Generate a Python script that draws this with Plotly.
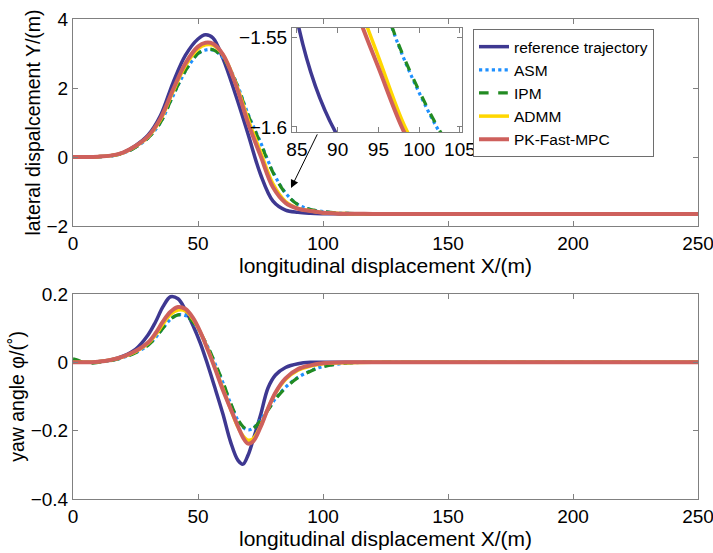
import plotly.graph_objects as go

# ---------------- data ----------------
series_names = ["reference trajectory", "ASM", "IPM", "ADMM", "PK-Fast-MPC"]

x_top = [0, 5, 10, 15, 20, 25, 30, 35, 40, 45, 50, 53, 56, 60, 65, 70, 75, 80,
         85, 90, 95, 100, 105, 110, 120, 130, 150, 200, 250]
Y_ref = [0, 0, 0.01, 0.04, 0.13, 0.33, 0.63, 1.2, 2.15, 2.95, 3.42, 3.54, 3.45, 2.85,
         1.81, 0.67, -0.5, -1.28, -1.54, -1.605, -1.632, -1.643, -1.648, -1.65,
         -1.65, -1.65, -1.65, -1.65, -1.65]
Y_asm = [0, 0, 0.01, 0.03, 0.11, 0.28, 0.55, 1.0, 1.77, 2.49, 2.99, 3.1, 3.1, 2.88,
         2.22, 1.25, 0.43, -0.43, -1.04, -1.38, -1.52, -1.581, -1.619, -1.636,
         -1.646, -1.649, -1.65, -1.65, -1.65]
Y_ipm = [0, 0, 0.01, 0.03, 0.11, 0.28, 0.55, 1.0, 1.78, 2.5, 3.0, 3.11, 3.11, 2.88,
         2.2, 1.22, 0.4, -0.45, -1.05, -1.38, -1.52, -1.58, -1.618, -1.635,
         -1.646, -1.649, -1.65, -1.65, -1.65]
Y_admm = [0, 0, 0.01, 0.04, 0.12, 0.31, 0.58, 1.08, 1.9, 2.65, 3.13, 3.25, 3.24, 2.96,
          2.16, 1.1, 0.15, -0.78, -1.29, -1.49, -1.561, -1.614, -1.634, -1.642,
          -1.648, -1.65, -1.65, -1.65, -1.65]
Y_pk = [0, 0, 0.01, 0.04, 0.13, 0.32, 0.6, 1.12, 1.95, 2.72, 3.2, 3.31, 3.28, 2.97,
        2.12, 0.99, 0.04, -0.88, -1.33, -1.5, -1.567, -1.617, -1.635, -1.643,
        -1.649, -1.65, -1.65, -1.65, -1.65]

x_bot = [0, 2, 5, 10, 15, 20, 25, 30, 33, 36, 39, 42, 45, 48, 51, 54, 57, 60, 63, 66,
         68, 70, 72, 75, 78, 81, 85, 90, 95, 100, 110, 120, 150, 200, 250]
yaw_ref = [0, 0, 0, 0.002, 0.007, 0.018, 0.038, 0.08, 0.118, 0.163, 0.192, 0.186,
           0.153, 0.108, 0.055, -0.01, -0.08, -0.152, -0.232, -0.287, -0.298, -0.272,
           -0.228, -0.155, -0.075, -0.037, -0.015, -0.004, 0, 0, 0, 0, 0, 0, 0]
yaw_asm = [0, 0, 0, 0.001, 0.005, 0.014, 0.028, 0.05, 0.072, 0.1, 0.126, 0.139,
           0.137, 0.118, 0.085, 0.044, -0.007, -0.06, -0.12, -0.17, -0.19, -0.198,
           -0.193, -0.168, -0.138, -0.106, -0.073, -0.044, -0.025, -0.012, -0.002,
           0, 0, 0, 0]
yaw_ipm = [0.01, 0.006, -0.003, 0, 0.005, 0.014, 0.028, 0.05, 0.072, 0.1, 0.126, 0.139,
           0.137, 0.118, 0.085, 0.045, -0.005, -0.058, -0.118, -0.168, -0.188, -0.197,
           -0.194, -0.17, -0.14, -0.108, -0.075, -0.045, -0.026, -0.013, -0.002,
           0, 0, 0, 0]
yaw_admm = [0, 0, 0, 0.002, 0.007, 0.016, 0.031, 0.055, 0.08, 0.112, 0.14, 0.153,
            0.15, 0.126, 0.087, 0.037, -0.02, -0.078, -0.136, -0.19, -0.215, -0.228,
            -0.224, -0.187, -0.135, -0.09, -0.05, -0.023, -0.011, -0.004, -0.001,
            0, 0, 0, 0]
yaw_pk = [0, 0, 0, 0.002, 0.007, 0.017, 0.033, 0.058, 0.085, 0.12, 0.148, 0.162,
          0.156, 0.13, 0.088, 0.035, -0.022, -0.082, -0.135, -0.188, -0.22, -0.238,
          -0.232, -0.19, -0.135, -0.088, -0.047, -0.02, -0.009, -0.003, 0, 0, 0, 0, 0]

top_vals = [Y_ref, Y_asm, Y_ipm, Y_admm, Y_pk]
bot_vals = [yaw_ref, yaw_asm, yaw_ipm, yaw_admm, yaw_pk]

x_ticks = [0, 50, 100, 150, 200, 250]
inset_x_ticks = [85, 90, 95, 100, 105]

# ---------------- styles ----------------
styles = [
    dict(color="rgb(62,56,145)", width=3.5, dash="solid"),
    dict(color="rgb(30,144,255)", width=3.2, dash="dot"),
    dict(color="rgb(34,139,34)", width=3.2, dash="dash"),
    dict(color="rgb(255,215,0)", width=3.5, dash="solid"),
    dict(color="rgb(206,96,92)", width=4, dash="solid"),
]

FONT = "Liberation Sans, Arial, sans-serif"
fig = go.Figure()

for name, yv, st in zip(series_names, top_vals, styles):
    fig.add_trace(go.Scatter(x=x_top, y=yv, name=name, mode="lines",
                             line=dict(shape="spline", **st),
                             xaxis="x", yaxis="y", legendgroup=name))
for name, yv, st in zip(series_names, top_vals, styles):
    fig.add_trace(go.Scatter(x=x_top, y=yv, name=name, mode="lines",
                             line=dict(shape="spline", **st), showlegend=False,
                             xaxis="x3", yaxis="y3", legendgroup=name))
for name, yv, st in zip(series_names, bot_vals, styles):
    fig.add_trace(go.Scatter(x=x_bot, y=yv, name=name, mode="lines",
                             line=dict(shape="spline", **st), showlegend=False,
                             xaxis="x2", yaxis="y2", legendgroup=name))

axis_common = dict(showline=True, linecolor="rgb(128,128,128)", linewidth=1,
                   mirror="ticks", ticks="inside", ticklen=5,
                   tickcolor="rgb(128,128,128)", showgrid=False, zeroline=False,
                   tickfont=dict(family=FONT, size=19, color="black"),
                   ticklabeloverflow="allow", automargin=False)

fig.update_layout(
    width=713, height=553,
    margin=dict(l=73, r=15, t=19, b=54),
    paper_bgcolor="white", plot_bgcolor="white",
    font=dict(family=FONT, color="black"),
    xaxis=dict(domain=[0, 1], range=[0, 250], tickvals=x_ticks, anchor="y",
               title=dict(text="longitudinal displacement X/(m)", standoff=0,
                          font=dict(family=FONT, size=21)),
               **axis_common),
    yaxis=dict(domain=[0.56875, 1], range=[-2, 4], tickvals=[-2, 0, 2, 4],
               anchor="x",
               title=dict(text="lateral dispalcement Y/(m)", standoff=0,
                          font=dict(family=FONT, size=19.5)),
               **axis_common),
    xaxis2=dict(domain=[0, 1], range=[0, 250], tickvals=x_ticks, anchor="y2",
                title=dict(text="longitudinal displacement X/(m)", standoff=4,
                           font=dict(family=FONT, size=21)),
                **axis_common),
    yaxis2=dict(domain=[0, 0.4271], range=[-0.4, 0.2], tickvals=[-0.4, -0.2, 0, 0.2],
                anchor="x2",
                title=dict(text="yaw angle φ/(˚)", standoff=0,
                           font=dict(family=FONT, size=19.5)),
                **axis_common),
    xaxis3=dict(domain=[0.3504, 0.6224], range=[84.4, 105.25],
                tickvals=inset_x_ticks, anchor="y3", **axis_common),
    yaxis3=dict(domain=[0.7646, 0.98125], range=[-1.6028, -1.545],
                tickvals=[-1.6, -1.55], ticktext=["−1.6", "−1.55"], anchor="x3",
                **axis_common),
    legend=dict(x=0.64, y=0.979, xanchor="left", yanchor="top",
                bgcolor="white", bordercolor="rgb(110,110,110)", borderwidth=1,
                font=dict(family=FONT, size=15.5, color="black"),
                tracegroupgap=0, itemwidth=30,
                entrywidth=168, entrywidthmode="pixels"),
    showlegend=True,
)

fig.add_annotation(x=87.2, y=-0.9, ax=98, ay=0.7, xref="x", yref="y",
                   axref="x", ayref="y", showarrow=True, arrowhead=2,
                   arrowsize=1.6, arrowwidth=1, arrowcolor="black", text="")

fig.write_html("out.html")
